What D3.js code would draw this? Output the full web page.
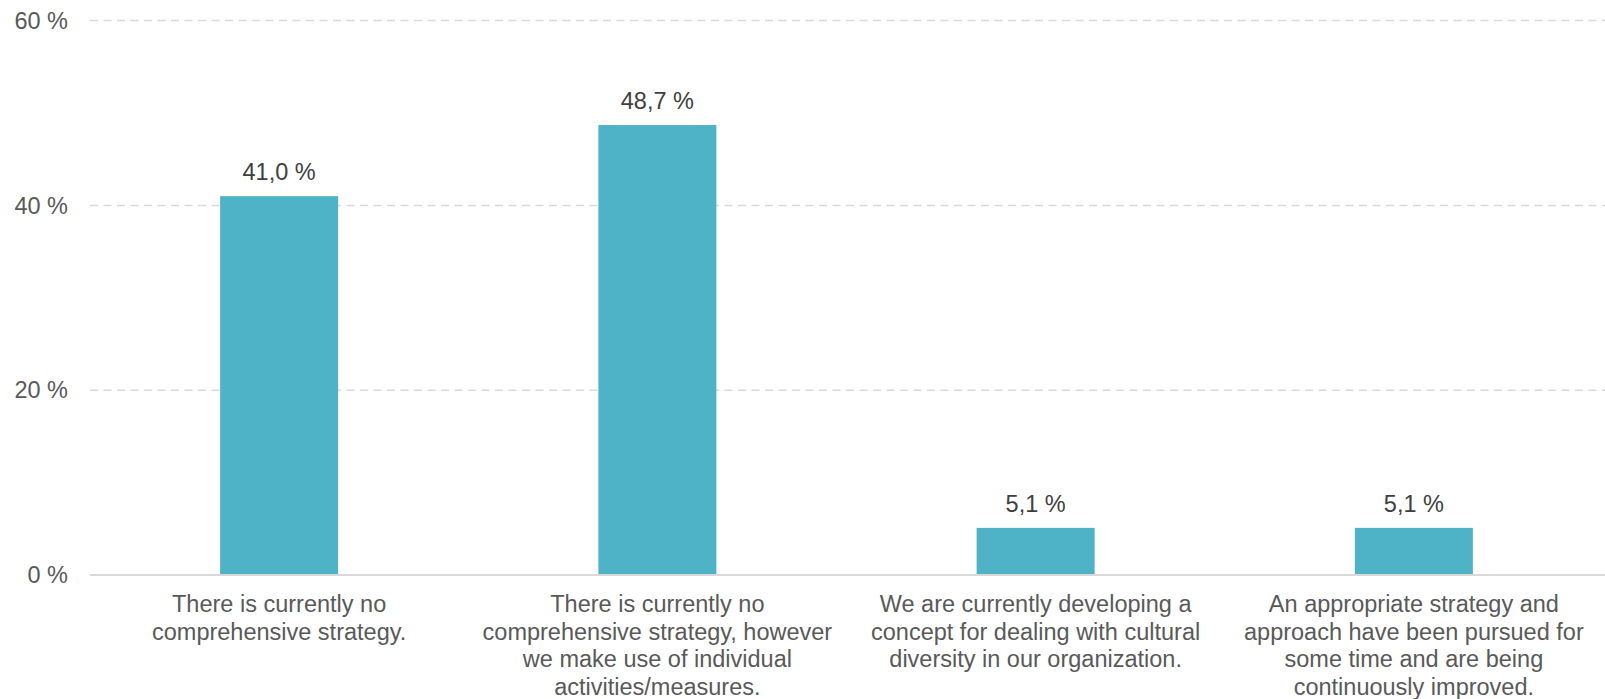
<!DOCTYPE html>
<html>
<head>
<meta charset="utf-8">
<script src="https://cdn.jsdelivr.net/npm/d3@7"></script>
<style>
  html, body { margin: 0; padding: 0; background: #ffffff; }
  svg { display: block; font-family: "Liberation Sans", Arial, sans-serif; }
</style>
</head>
<body>
<svg id="chart" width="1605" height="699"></svg>
<script>
// Survey answers (each category label split into its display lines)
const categories = [
  ["There is currently no", "comprehensive strategy."],
  ["There is currently no", "comprehensive strategy, however", "we make use of individual", "activities/measures."],
  ["We are currently developing a", "concept for dealing with cultural", "diversity in our organization."],
  ["An appropriate strategy and", "approach have been pursued for", "some time and are being", "continuously improved."]
];
const shares = [41.0, 48.7, 5.1, 5.1];
const yTicks = [0, 20, 40, 60];

(function draw() {
  const svg = d3.select("#chart");
  const plotLeft = 90, plotRight = 1603, plotTop = 20.6, plotBottom = 575;

  const keys = categories.map((c, i) => i);
  const x = d3.scaleBand()
    .domain(keys)
    .range([plotLeft, plotRight])
    .paddingInner(0.688)
    .paddingOuter(0.344);

  const y = d3.scaleLinear()
    .domain([0, 60])
    .range([plotBottom, plotTop]);

  // Dashed horizontal gridlines (zero line drawn solid below)
  svg.append("g")
    .selectAll("line")
    .data(yTicks.filter(t => t > 0))
    .join("line")
    .attr("x1", plotLeft)
    .attr("x2", 1605)
    .attr("y1", d => y(d))
    .attr("y2", d => y(d))
    .attr("stroke", "#d9d9d9")
    .attr("stroke-width", 1.5)
    .attr("stroke-dasharray", "8,5.5");

  // Y-axis tick labels
  const fmtTick = d => d + " %";
  svg.append("g")
    .selectAll("text")
    .data(yTicks)
    .join("text")
    .attr("x", 68)
    .attr("y", d => y(d))
    .attr("dy", "0.35em")
    .attr("text-anchor", "end")
    .attr("font-size", 23.5)
    .attr("fill", "#595959")
    .text(fmtTick);

  // Bars
  svg.append("g")
    .selectAll("rect")
    .data(shares)
    .join("rect")
    .attr("x", (d, i) => x(i))
    .attr("y", d => y(d))
    .attr("width", x.bandwidth())
    .attr("height", d => y(0) - y(d))
    .attr("fill", "#4fb3c8");

  // Baseline
  svg.append("line")
    .attr("x1", plotLeft)
    .attr("x2", 1605)
    .attr("y1", y(0))
    .attr("y2", y(0))
    .attr("stroke", "#d9d9d9")
    .attr("stroke-width", 2);

  // Value labels above the bars
  const fmtVal = d => d.toFixed(1).replace(".", ",") + " %";
  svg.append("g")
    .selectAll("text")
    .data(shares)
    .join("text")
    .attr("x", (d, i) => x(i) + x.bandwidth() / 2)
    .attr("y", d => y(d) - 16)
    .attr("text-anchor", "middle")
    .attr("font-size", 23.5)
    .attr("fill", "#404040")
    .text(fmtVal);

  // Category labels under the axis
  const cat = svg.append("g")
    .selectAll("text")
    .data(categories)
    .join("text")
    .attr("x", (d, i) => x(i) + x.bandwidth() / 2)
    .attr("y", 612)
    .attr("text-anchor", "middle")
    .attr("font-size", 23.5)
    .attr("fill", "#595959");

  cat.selectAll("tspan")
    .data(d => d)
    .join("tspan")
    .attr("x", function () { return d3.select(this.parentNode).attr("x"); })
    .attr("dy", (d, i) => i === 0 ? 0 : 27.5)
    .text(d => d);
})();
</script>
</body>
</html>
